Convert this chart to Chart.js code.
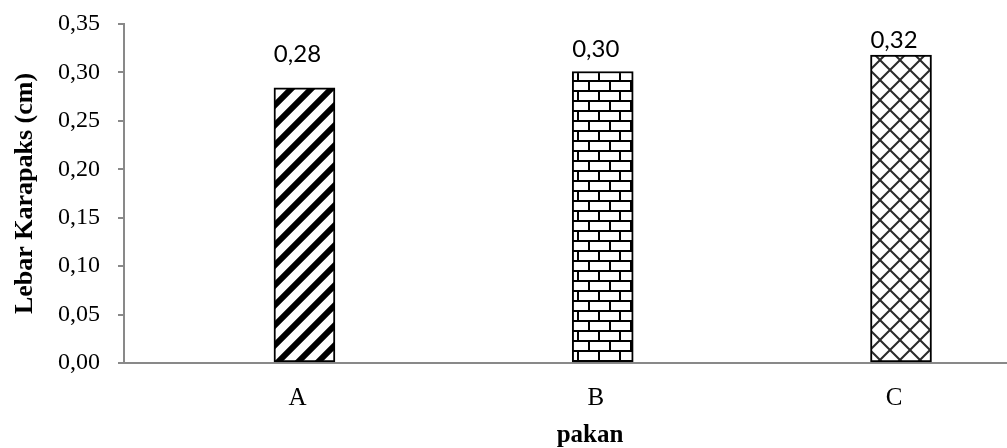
<!DOCTYPE html>
<html>
<head>
<meta charset="utf-8">
<script src="https://cdn.jsdelivr.net/npm/chart.js@4/dist/chart.umd.min.js"></script>
<style>
  html, body { margin: 0; padding: 0; background: #ffffff; }
  #wrap { width: 1007px; height: 448px; position: relative; }
</style>
</head>
<body>
<div id="wrap"><canvas id="chart" width="1007" height="448"></canvas></div>
<script>
// Carapace width per feed treatment
const categories = ['A', 'B', 'C'];
const carapaceWidth = [0.284, 0.301, 0.318];
const yTicks = [0, 0.05, 0.10, 0.15, 0.20, 0.25, 0.30, 0.35];

const SERIF = '"Times New Roman", "Liberation Serif", serif';
const AXIS_GREY = '#898989';

// --- fill patterns for the three bars ---
function makeTile(w, h, draw) {
  const c = document.createElement('canvas');
  c.width = w; c.height = h;
  const g = c.getContext('2d');
  g.fillStyle = '#ffffff';
  g.fillRect(0, 0, w, h);
  draw(g, w, h);
  return c;
}

function diagonalTile() {
  return makeTile(20, 20, (g) => {
    g.strokeStyle = '#000000';
    g.lineWidth = 6;
    g.lineCap = 'square';
    [[-10, 10, 10, -10], [0, 20, 20, 0], [10, 30, 30, 10]].forEach(([x1, y1, x2, y2]) => {
      g.beginPath(); g.moveTo(x1, y1); g.lineTo(x2, y2); g.stroke();
    });
  });
}

function brickTile() {
  return makeTile(42, 20, (g) => {
    g.fillStyle = '#000000';
    g.fillRect(0, 0, 42, 2);
    g.fillRect(0, 10, 42, 2);
    g.fillRect(0, 0, 2, 10);
    g.fillRect(21, 0, 2, 10);
    g.fillRect(10, 10, 2, 10);
    g.fillRect(31, 10, 2, 10);
  });
}

function crossTile() {
  return makeTile(20, 20, (g) => {
    g.strokeStyle = '#2a2a2a';
    g.lineWidth = 2;
    const segs = [
      [-10, 10, 10, -10], [0, 20, 20, 0], [10, 30, 30, 10],
      [-10, 10, 10, 30], [0, 0, 20, 20], [10, -10, 30, 10]
    ];
    segs.forEach(([x1, y1, x2, y2]) => {
      g.beginPath(); g.moveTo(x1, y1); g.lineTo(x2, y2); g.stroke();
    });
  });
}

const ctx = document.getElementById('chart').getContext('2d');
const fills = [
  ctx.createPattern(diagonalTile(), 'repeat'),
  ctx.createPattern(brickTile(), 'repeat'),
  ctx.createPattern(crossTile(), 'repeat')
];

// value labels sit a little above each bar
const labelLift = [34, 22, 15];

const annotate = {
  id: 'annotate',
  afterDatasetsDraw(chart) {
    const g = chart.ctx;
    const meta = chart.getDatasetMeta(0);
    g.save();
    g.fillStyle = '#000000';
    g.font = '24px Lato, "Open Sans", sans-serif';
    g.textAlign = 'center';
    g.textBaseline = 'middle';
    meta.data.forEach((bar, i) => {
      const txt = carapaceWidth[i].toFixed(2).replace('.', ',');
      g.fillText(txt, bar.x - 7, bar.y - labelLift[i]);
    });
    // horizontal axis title
    g.font = 'bold 25px ' + SERIF;
    g.textBaseline = 'middle';
    g.fillText('pakan', 590, 436);
    g.restore();
  }
};

new Chart(ctx, {
  type: 'bar',
  data: {
    datasets: [{
      data: categories.map((c, i) => ({ x: i, y: carapaceWidth[i] })),
      backgroundColor: fills,
      borderColor: '#000000',
      borderWidth: 2,
      borderSkipped: false,
      barThickness: 61
    }]
  },
  options: {
    responsive: false,
    animation: false,
    layout: { padding: { top: 24, right: 1, left: 0, bottom: 0 } },
    plugins: {
      legend: { display: false },
      tooltip: { enabled: false }
    },
    scales: {
      x: {
        type: 'linear',
        offset: false,
        min: -0.605,
        max: 2.352,
        afterFit(scale) {
          scale.height = 85;
          scale.paddingLeft = 0;
          scale.paddingRight = 0;
        },
        grid: { display: true, drawOnChartArea: false, drawTicks: false },
        border: { display: true, color: AXIS_GREY, width: 2 },
        ticks: {
          stepSize: 1,
          includeBounds: false,
          autoSkip: false,
          maxRotation: 0,
          padding: 20,
          labelOffset: -7,
          color: '#000000',
          font: { family: SERIF, size: 25 },
          callback: (v) => categories[v] !== undefined && Number.isInteger(v) ? categories[v] : ''
        }
      },
      y: {
        min: 0,
        max: 0.35,
        afterFit(scale) {
          scale.width = 124;
          scale.paddingTop = 0;
          scale.paddingBottom = 0;
        },
        afterBuildTicks(scale) { scale.ticks = yTicks.map(v => ({ value: v })); },
        grid: { drawOnChartArea: false, drawTicks: true, tickLength: 6, color: AXIS_GREY, lineWidth: 2 },
        border: { display: true, color: AXIS_GREY, width: 2 },
        ticks: {
          padding: 18,
          color: '#000000',
          font: { family: SERIF, size: 24 },
          callback: (v) => v.toFixed(2).replace('.', ',')
        },
        title: {
          display: true,
          text: 'Lebar Karapaks (cm)',
          color: '#000000',
          font: { family: SERIF, size: 26, weight: 'bold' },
          padding: { top: 10, bottom: 0 }
        }
      }
    }
  },
  plugins: [annotate]
});
</script>
</body>
</html>
